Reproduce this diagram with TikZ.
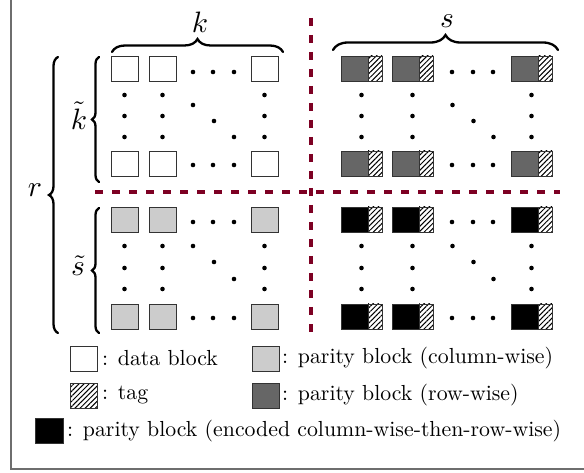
\documentclass[tikz,border=0pt]{standalone}
\usepackage{graphicx}
\usetikzlibrary{decorations.pathreplacing,patterns.meta}
\definecolor{dred}{RGB}{125,0,35}
\definecolor{dgray}{RGB}{102,102,102}
\definecolor{lgray}{RGB}{204,204,204}
\definecolor{framegray}{RGB}{110,110,110}
\newcommand{\biglbl}[1]{\scalebox{2.95}{$#1$}}
\newcommand{\legtxt}[1]{\scalebox{2.18}{#1}}
\begin{document}
\begin{tikzpicture}[x=1pt,y=-1pt,
 blk/.style={draw=black!80, line width=0.8pt, minimum width=27pt, minimum height=25pt, inner sep=0pt, outer sep=0pt, anchor=north west},
 dat/.style={blk, fill=white},
 colp/.style={blk, fill=lgray},
 rowp/.style={blk, fill=dgray},
 cwp/.style={blk, fill=black},
 tagb/.style={blk, minimum width=14pt, pattern={Lines[angle=45,distance=3.6pt,line width=1pt]}},
 dt/.style={circle, fill=black, inner sep=0pt, minimum size=4.6pt},
 sepline/.style={dred, line width=4pt, dash pattern=on 8pt off 9pt},
 br/.style={decorate, decoration={brace, amplitude=#1}, line width=2.3pt, line cap=round},
 lbl/.style={font=\fontsize{10}{12}\selectfont, inner sep=0pt},
 leg/.style={font=\fontsize{10}{12}\selectfont, anchor=west, inner sep=0pt}
]
\useasboundingbox (0,0) rectangle (584,473);
% frame
\coordinate (f1) at (11,0); \coordinate (f2) at (11,469); \coordinate (f3) at (584,469);
\draw[framegray, line width=1.5pt] (f1) -- (f2) -- (f3);

% blocks
\foreach \x [count=\i] in {111,149,251} {
  \foreach \y [count=\j] in {56,151} {
    \node[dat] (d-\i-\j) at (\x,\y) {};
  }
  \foreach \y [count=\j] in {207,304} {
    \node[colp] (c-\i-\j) at (\x,\y) {};
  }
}
\foreach \x [count=\i] in {341,392,511} {
  \foreach \y [count=\j] in {56,151} {
    \node[rowp] (r-\i-\j) at (\x,\y) {};
    \node[tagb] (rt-\i-\j) at (\x+27,\y) {};
  }
  \foreach \y [count=\j] in {207,304} {
    \node[cwp] (b-\i-\j) at (\x,\y) {};
    \node[tagb] (bt-\i-\j) at (\x+27,\y) {};
  }
}

% horizontal dots
\foreach \y [count=\j] in {72,165,222,318} {
  \foreach \x [count=\i] in {193,213,234,452,473,493} {
    \node[dt] (h-\i-\j) at (\x,\y) {};
  }
}
% vertical dots
\foreach \x [count=\i] in {124.5,162.5,264.5,361.5,412.5,531.5} {
  \foreach \y [count=\j] in {95,116,137,246,268,289} {
    \node[dt] (v-\i-\j) at (\x,\y) {};
  }
}
% diagonal dots
\foreach \dx [count=\i] in {0,259.5} {
  \node[dt] (g-\i-1) at (193+\dx,105) {};
  \node[dt] (g-\i-2) at (214+\dx,121) {};
  \node[dt] (g-\i-3) at (234+\dx,137) {};
  \node[dt] (g-\i-4) at (193+\dx,246) {};
  \node[dt] (g-\i-5) at (214+\dx,262) {};
  \node[dt] (g-\i-6) at (234+\dx,279) {};
}

% separators
\coordinate (hs1) at (95,192); \coordinate (hs2) at (560,192);
\coordinate (vs1) at (311,18); \coordinate (vs2) at (311,333);
\draw[sepline] (hs1) -- (hs2);
\draw[sepline] (vs1) -- (vs2);

% braces
\coordinate (kb1) at (112,52); \coordinate (kb2) at (283,52);
\coordinate (sb1) at (333,50); \coordinate (sb2) at (558,50);
\coordinate (ktb1) at (99,182); \coordinate (ktb2) at (99,57);
\coordinate (stb1) at (99,333); \coordinate (stb2) at (99,208);
\coordinate (rb1) at (58,333); \coordinate (rb2) at (58,57);
\draw[br=13pt] (kb1) -- (kb2);
\draw[br=15pt] (sb1) -- (sb2);
\draw[br=7pt] (ktb1) -- (ktb2);
\draw[br=7pt] (stb1) -- (stb2);
\draw[br=9pt] (rb1) -- (rb2);
\node[lbl] (klab) at (200,22) {\biglbl{k}};
\node[lbl] (slab) at (447,21) {\biglbl{s}};
\node[lbl] (ktlab) at (79,116) {\biglbl{\tilde{k}}};
\node[lbl] (stlab) at (78,266) {\biglbl{\tilde{s}}};
\node[lbl] (rlab) at (35,190) {\biglbl{r}};

% legend
\node[dat] (lw) at (70,346) {};
\node[leg] (lwt) at (102,358) {\legtxt{{:} data block}};
\node[colp] (lc) at (252,346) {};
\node[leg] (lct) at (282,358) {\legtxt{{:} parity block (column-wise)}};
\node[tagb, minimum width=27pt] (lt) at (70,383) {};
\node[leg] (ltt) at (102,395) {\legtxt{{:} tag}};
\node[rowp] (lr) at (252,383) {};
\node[leg] (lrt) at (282,395) {\legtxt{{:} parity block (row-wise)}};
\node[cwp, minimum width=28pt] (lb) at (35,418) {};
\node[leg] (lbt) at (67,431) {\legtxt{{:} parity block (encoded column-wise-then-row-wise)}};
\end{tikzpicture}
\end{document}
